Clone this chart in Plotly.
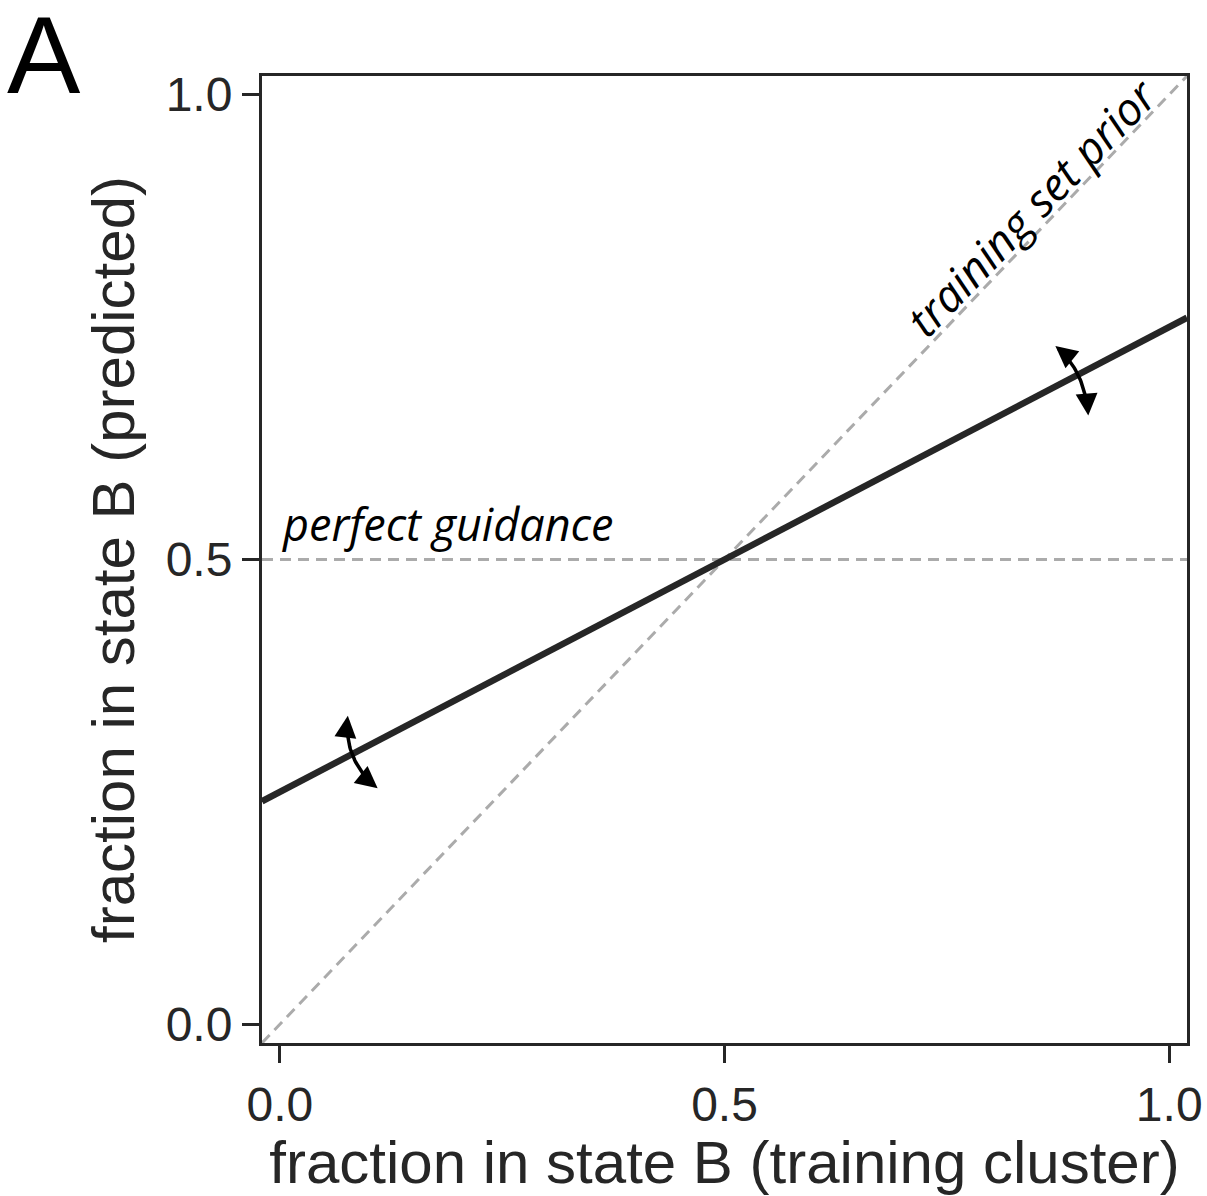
import plotly.graph_objects as go
import numpy as np

# ---- data ----
x_span = [-0.02, 1.02]
predicted = [0.24, 0.76]            # fitted line: 0.25 + 0.5*x
prior_diag = [-0.02, 1.02]          # y = x (training set prior)
guidance_level = [0.5, 0.5]         # perfect guidance
tick_vals = [0.0, 0.5, 1.0]
tick_text = ["0.0", "0.5", "1.0"]

# curved double-headed arrows: (start tip, control, end tip)
arrow1 = [(0.0765, 0.332), (0.0709, 0.2845), (0.110, 0.254)]
arrow2 = [(0.872, 0.7295), (0.905, 0.704), (0.909, 0.655)]

AX_FONT = "Liberation Sans, Arial, sans-serif"
DARK = "#262626"
GRAY = "#ababab"

fig = go.Figure()

fig.add_trace(go.Scatter(x=x_span, y=prior_diag, mode="lines",
                         line=dict(color=GRAY, width=3, dash="11px,7px"),
                         hoverinfo="skip", showlegend=False))
fig.add_trace(go.Scatter(x=x_span, y=guidance_level, mode="lines",
                         line=dict(color=GRAY, width=3, dash="11px,7px"),
                         hoverinfo="skip", showlegend=False))
fig.add_trace(go.Scatter(x=x_span, y=predicted, mode="lines",
                         line=dict(color=DARK, width=6.5),
                         hoverinfo="skip", showlegend=False))

annotations = []
for p0, c, p2 in (arrow1, arrow2):
    t = np.linspace(0, 1, 40)
    p0a, ca, p2a = np.array(p0), np.array(c), np.array(p2)
    pts = ((1 - t)[:, None] ** 2) * p0a + (2 * (1 - t) * t)[:, None] * ca + (t[:, None] ** 2) * p2a
    fig.add_trace(go.Scatter(x=pts[2:-2, 0], y=pts[2:-2, 1], mode="lines",
                             line=dict(color="black", width=3.5),
                             hoverinfo="skip", showlegend=False))
    for tip, ctrl in ((p0a, ca), (p2a, ca)):
        d = tip - ctrl
        d = d / np.linalg.norm(d)
        tail = tip - d * 0.02
        annotations.append(dict(x=float(tip[0]), y=float(tip[1]), ax=float(tail[0]), ay=float(tail[1]),
                                xref="x", yref="y", axref="x", ayref="y", text="",
                                showarrow=True, arrowhead=2, arrowsize=1.25, arrowwidth=3.5,
                                arrowcolor="black", standoff=0))

annotations.append(dict(x=0.0, y=0.5, xref="x", yref="y", text="perfect guidance",
                        showarrow=False, xanchor="left", yanchor="bottom", yshift=4, xshift=0,
                        font=dict(family="Open Sans", size=45, color="black", style="italic")))
annotations.append(dict(x=0.845, y=0.88, xref="x", yref="y", text="training set prior",
                        showarrow=False, textangle=-46, xanchor="center", yanchor="middle",
                        font=dict(family="Open Sans", size=45, color="black", style="italic")))
annotations.append(dict(x=(44 - 262) / 925, y=1 + (76 - 55) / 967, xref="paper", yref="paper",
                        text="A", showarrow=False, xanchor="center", yanchor="middle",
                        font=dict(family=AX_FONT, size=110, color="black")))

fig.update_layout(
    width=1207, height=1196,
    margin=dict(l=262, r=20, t=76, b=153, autoexpand=False),
    paper_bgcolor="white", plot_bgcolor="white",
    showlegend=False,
    annotations=annotations,
)

axis_common = dict(
    showgrid=False, zeroline=False, showline=True, mirror=True,
    linecolor=DARK, linewidth=3,
    ticks="outside", ticklen=17, tickwidth=3, tickcolor=DARK,
    tickvals=tick_vals, ticktext=tick_text,
    tickfont=dict(family=AX_FONT, size=48, color=DARK),
    title_font=dict(family=AX_FONT, size=60, color=DARK),
    range=[-0.02, 1.02], automargin=False,
)
fig.update_xaxes(**axis_common, title_text="fraction in state B (training cluster)", title_standoff=2)
fig.update_yaxes(**axis_common, title_text="fraction in state B (predicted)", title_standoff=12)

fig.write_html("out.html")
